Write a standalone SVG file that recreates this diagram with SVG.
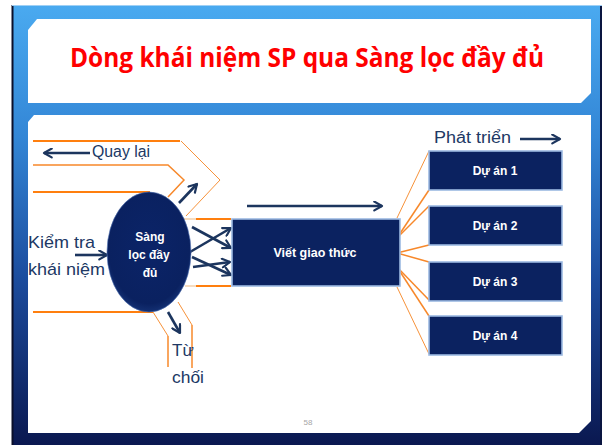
<svg xmlns="http://www.w3.org/2000/svg" width="605" height="445" viewBox="0 0 605 445">
  <defs>
    <linearGradient id="bg" x1="0" y1="0" x2="0" y2="1">
      <stop offset="0" stop-color="#4aaaf0"/>
      <stop offset="0.3" stop-color="#3386d6"/>
      <stop offset="0.62" stop-color="#1c4c9e"/>
      <stop offset="1" stop-color="#0a1850"/>
    </linearGradient>
    <radialGradient id="ell" cx="0.5" cy="0.45" r="0.6">
      <stop offset="0" stop-color="#0b2468"/>
      <stop offset="0.8" stop-color="#0a2160"/>
      <stop offset="1" stop-color="#1a3a80"/>
    </radialGradient>
    <marker id="ah" viewBox="0 0 10 10" refX="8.5" refY="5" markerWidth="11" markerHeight="11" markerUnits="userSpaceOnUse" orient="auto">
      <path d="M1.5,1 L8.5,5 L1.5,9" fill="none" stroke="#1c355e" stroke-width="2" stroke-linecap="round" stroke-linejoin="round"/>
    </marker>
    <style>
      .lbl { font-family: "Liberation Sans", "Noto Sans", Arial, sans-serif; fill: #203864; }
      .wt { font-family: "Liberation Sans", "Noto Sans", Arial, sans-serif; fill: #ffffff; font-weight: bold; text-anchor: middle; }
      .box { fill: #0b2260; stroke: #9cb9e2; stroke-width: 1.6; }
      .arr { stroke: #1c355e; stroke-width: 2.6; fill: none; marker-end: url(#ah); }
      .ot { stroke: #ff7f0e; stroke-width: 2.2; fill: none; }
      .on { stroke: #f7923a; stroke-width: 1; fill: none; }
      .om { stroke: #f7882a; stroke-width: 1.5; fill: none; }
    </style>
  </defs>

  <!-- slide background -->
  <rect x="0" y="0" width="605" height="445" fill="#ffffff"/>
  <rect x="12" y="5" width="590" height="440" fill="url(#bg)"/>
  <line x1="12.5" y1="5" x2="12.5" y2="445" stroke="#0a0f2a" stroke-width="2"/>
  <line x1="601" y1="5" x2="601" y2="445" stroke="#0a1540" stroke-width="2"/>
  <line x1="12" y1="5.5" x2="602" y2="5.5" stroke="#9fd0f5" stroke-width="1"/>

  <!-- title panel -->
  <g id="title">
    <polygon points="28,30 37,19 591,19 591,93 581,103 28,103" fill="#ffffff"/>
    <text x="307" y="67" text-anchor="middle" font-family="Open Sans, Noto Sans, Liberation Sans, sans-serif" font-weight="bold" font-size="26" fill="#ff0000" textLength="474" lengthAdjust="spacingAndGlyphs">Dòng khái niệm SP qua Sàng lọc đầy đủ</text>
  </g>

  <!-- content panel -->
  <polygon points="28,122 34,115 591,115 591,421 579,433 28,433" fill="#ffffff"/>

  <!-- connectors -->
  <g id="connectors">
    <!-- top funnel (Quay lại) -->
    <line class="ot" x1="33" y1="141" x2="180" y2="141"/>
    <polyline class="on" points="181,141 220,180 186,216"/>
    <polyline class="om" points="33,165 168,165 184,180 168,197"/>
    <line class="ot" x1="33" y1="192" x2="150" y2="192"/>
    <!-- pipe to protocol box -->
    <line x1="183" y1="219" x2="196" y2="219" stroke="#f6dcc0" stroke-width="2"/>
    <line x1="185" y1="286" x2="196" y2="286" stroke="#f6dcc0" stroke-width="2"/>
    <line class="ot" x1="196" y1="219" x2="231" y2="219"/>
    <line class="ot" x1="196" y1="286" x2="231" y2="286"/>
    <!-- bottom funnel (Từ chối) -->
    <line class="ot" x1="33" y1="312" x2="153" y2="312"/>
    <line class="on" x1="153" y1="312" x2="168" y2="336"/>
    <line class="om" x1="168" y1="336" x2="168" y2="367"/>
    <line class="on" x1="178" y1="302" x2="192" y2="325"/>
    <line class="om" x1="192" y1="325" x2="192" y2="368"/>
    <!-- fan to projects -->
    <line class="on" x1="397" y1="218" x2="429" y2="151"/>
    <line class="om" x1="397" y1="238" x2="429" y2="190"/>
    <line class="om" x1="397" y1="238" x2="429" y2="206"/>
    <line class="om" x1="397" y1="253" x2="429" y2="245"/>
    <line class="om" x1="397" y1="253" x2="429" y2="262"/>
    <line class="om" x1="397" y1="267" x2="429" y2="300"/>
    <line class="om" x1="397" y1="267" x2="429" y2="316"/>
    <line class="on" x1="397" y1="287" x2="429" y2="354"/>

    <!-- arrows -->
    <line class="arr" x1="90" y1="153" x2="44" y2="153"/>
    <line class="arr" x1="179" y1="203" x2="197" y2="184"/>
    <line class="arr" x1="75" y1="255" x2="107" y2="255"/>
    <line class="arr" x1="192" y1="227" x2="231" y2="248"/>
    <line class="arr" x1="190" y1="252" x2="231" y2="228"/>
    <line class="arr" x1="192" y1="257" x2="231" y2="275"/>
    <line class="arr" x1="193" y1="267" x2="230" y2="262"/>
    <line class="arr" x1="168" y1="312" x2="180" y2="333"/>
    <line class="arr" x1="247" y1="206" x2="382" y2="206"/>
    <line class="arr" x1="520" y1="139" x2="560" y2="139"/>
  </g>

  <!-- side labels -->
  <g id="label-quay-lai"><text class="lbl" x="92" y="157" font-size="16" textLength="58" lengthAdjust="spacingAndGlyphs">Quay lại</text></g>
  <g id="label-kiem-tra">
    <text class="lbl" x="28" y="248" font-size="17" textLength="67" lengthAdjust="spacingAndGlyphs">Kiểm tra</text>
    <text class="lbl" x="28" y="275" font-size="17" textLength="77" lengthAdjust="spacingAndGlyphs">khái niệm</text>
  </g>
  <g id="label-tu-choi">
    <text class="lbl" x="172" y="356" font-size="17">Từ</text>
    <text class="lbl" x="172" y="383" font-size="17" textLength="32" lengthAdjust="spacingAndGlyphs">chối</text>
  </g>
  <g id="label-phat-trien"><text class="lbl" x="434" y="143" font-size="16" textLength="77" lengthAdjust="spacingAndGlyphs">Phát triển</text></g>

  <!-- screening node -->
  <g id="node-sang-loc">
    <ellipse cx="149" cy="252" rx="42" ry="60" fill="url(#ell)" stroke="#4e70b0" stroke-width="1" stroke-opacity="0.6"/>
    <text class="wt" x="150" y="241" font-size="12">Sàng</text>
    <text class="wt" x="149" y="259" font-size="12">lọc đầy</text>
    <text class="wt" x="150" y="277" font-size="12">đủ</text>
  </g>

  <!-- protocol box -->
  <g id="node-viet-giao-thuc">
    <rect class="box" x="232" y="219" width="168" height="67"/>
    <text class="wt" x="315" y="257" font-size="12.5">Viết giao thức</text>
  </g>

  <!-- projects -->
  <g id="node-du-an-1">
    <rect class="box" x="429" y="151" width="133" height="39"/>
    <text class="wt" x="495" y="175" font-size="12">Dự án 1</text>
  </g>
  <g id="node-du-an-2">
    <rect class="box" x="429" y="206" width="133" height="39"/>
    <text class="wt" x="495" y="230" font-size="12">Dự án 2</text>
  </g>
  <g id="node-du-an-3">
    <rect class="box" x="429" y="262" width="133" height="39"/>
    <text class="wt" x="495" y="286" font-size="12">Dự án 3</text>
  </g>
  <g id="node-du-an-4">
    <rect class="box" x="429" y="316" width="133" height="39"/>
    <text class="wt" x="495" y="340" font-size="12">Dự án 4</text>
  </g>

  <!-- page number -->
  <text x="308" y="425" text-anchor="middle" font-family="Liberation Sans, sans-serif" font-size="8" fill="#a6a6a6">58</text>
</svg>
